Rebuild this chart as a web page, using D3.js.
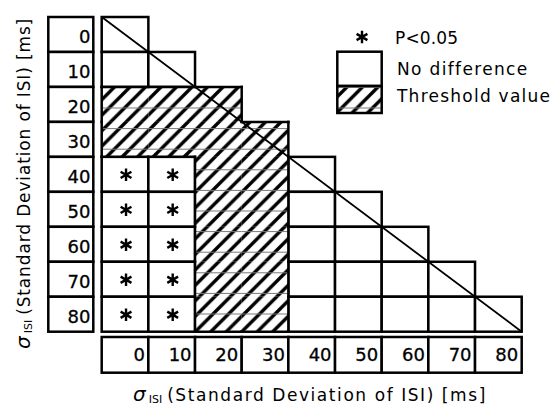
<!DOCTYPE html>
<html>
<head>
<meta charset="utf-8">
<script src="https://cdn.jsdelivr.net/npm/d3@7"></script>
<style>
  html, body { margin: 0; padding: 0; background: #fff; }
  svg { display: block; }
  text { font-family: "DejaVu Sans", "Liberation Sans", sans-serif; fill: #000; }
</style>
</head>
<body>
<svg id="chart" width="553" height="407"></svg>
<script>
// σ_ISI levels (ms) used on both axes
const sigmaLevels = [0, 10, 20, 30, 40, 50, 60, 70, 80];
const rowTickLabels = ["0", "10", "20", "30", "40", "50", "60", "70", "80"];
const colTickLabels = ["0", "10", "20", "30", "40", "50", "60", "70", "80"];

// Comparison result for each row (y σ) against each column (x σ ≤ y σ):
// S = significant (P<0.05), N = no difference, T = threshold value
const row0  = ["N"];
const row10 = ["N", "N"];
const row20 = ["T", "T", "T"];
const row30 = ["T", "T", "T", "T"];
const row40 = ["S", "S", "T", "T", "N"];
const row50 = ["S", "S", "T", "T", "N", "N"];
const row60 = ["S", "S", "T", "T", "N", "N", "N"];
const row70 = ["S", "S", "T", "T", "N", "N", "N", "N"];
const row80 = ["S", "S", "T", "T", "N", "N", "N", "N", "N"];
const results = [row0, row10, row20, row30, row40, row50, row60, row70, row80];

const legendItems = ["P<0.05", "No difference", "Threshold value"];

const svg = d3.select("#chart");
const LW = 2.5;

const x = d3.scaleBand().domain(sigmaLevels).range([101.7, 521.7]).padding(0);
const y = d3.scaleBand().domain(sigmaLevels).range([17, 331.7]).padding(0);

// stretch a text element's letter spacing so it spans a given width
function fitWidth(sel, width) {
  const node = sel.node();
  const n = node.getNumberOfChars();
  const w = node.getComputedTextLength();
  sel.attr("letter-spacing", ((width - w) / Math.max(1, n - 1)).toFixed(2));
}

// patterns
const defs = svg.append("defs");
const hp = 15.5;
const hatch = defs.append("pattern").attr("id", "hatch")
  .attr("patternUnits", "userSpaceOnUse").attr("width", hp).attr("height", hp);
hatch.append("rect").attr("width", hp).attr("height", hp).attr("fill", "#fff");
hatch.append("path")
  .attr("d", `M-2,2 L2,-2 M0,${hp} L${hp},0 M${hp - 2},${hp + 2} L${hp + 2},${hp - 2}`)
  .attr("stroke", "#000").attr("stroke-width", 3.4);
const rule = defs.append("pattern").attr("id", "rule")
  .attr("patternUnits", "userSpaceOnUse").attr("width", 40).attr("height", 20.6)
  .attr("y", 4.5);
rule.append("line").attr("x1", 0).attr("x2", 40).attr("y1", 0.5).attr("y2", 0.5)
  .attr("stroke", "#777").attr("stroke-width", 1);

// flatten cells
const cells = [];
results.forEach((row, i) => row.forEach((s, j) => cells.push({ yi: i, xi: j, s })));
const isT = (i, j) => results[i] && results[i][j] === "T";

const g = svg.append("g");

// plain cells (significant / no difference)
g.selectAll("rect.cell").data(cells.filter(d => d.s !== "T")).join("rect")
  .attr("class", "cell")
  .attr("x", d => x(sigmaLevels[d.xi]))
  .attr("y", d => y(sigmaLevels[d.yi]))
  .attr("width", x.bandwidth()).attr("height", y.bandwidth())
  .attr("fill", "#fff").attr("stroke", "#000").attr("stroke-width", LW);

// threshold cells: hatched fill, outlined as one region
const tCells = cells.filter(d => d.s === "T");
g.selectAll("rect.tcell").data(tCells).join("rect")
  .attr("class", "tcell")
  .attr("x", d => x(sigmaLevels[d.xi]))
  .attr("y", d => y(sigmaLevels[d.yi]))
  .attr("width", x.bandwidth()).attr("height", y.bandwidth())
  .attr("fill", "url(#hatch)");
g.selectAll("rect.trule").data(tCells).join("rect")
  .attr("class", "trule")
  .attr("x", d => x(sigmaLevels[d.xi]))
  .attr("y", d => y(sigmaLevels[d.yi]))
  .attr("width", x.bandwidth()).attr("height", y.bandwidth())
  .attr("fill", "url(#rule)");

const edges = [];
tCells.forEach(d => {
  const x0 = x(sigmaLevels[d.xi]), x1 = x0 + x.bandwidth();
  const y0 = y(sigmaLevels[d.yi]), y1 = y0 + y.bandwidth();
  if (!isT(d.yi - 1, d.xi)) edges.push([x0, y0, x1, y0]);
  if (!isT(d.yi + 1, d.xi)) edges.push([x0, y1, x1, y1]);
  if (!isT(d.yi, d.xi - 1)) edges.push([x0, y0, x0, y1]);
  if (!isT(d.yi, d.xi + 1)) edges.push([x1, y0, x1, y1]);
});
g.selectAll("line.tedge").data(edges).join("line")
  .attr("class", "tedge")
  .attr("x1", d => d[0] - (d[1] === d[3] ? LW / 2 : 0))
  .attr("x2", d => d[2] + (d[1] === d[3] ? LW / 2 : 0))
  .attr("y1", d => d[1] - (d[0] === d[2] ? LW / 2 : 0))
  .attr("y2", d => d[3] + (d[0] === d[2] ? LW / 2 : 0))
  .attr("stroke", "#000").attr("stroke-width", LW);

// diagonal (equal σ)
g.append("line")
  .attr("x1", x(sigmaLevels[0])).attr("y1", y(sigmaLevels[0]))
  .attr("x2", x(sigmaLevels[8]) + x.bandwidth()).attr("y2", y(sigmaLevels[8]) + y.bandwidth())
  .attr("stroke", "#000").attr("stroke-width", 1.8);

// asterisks for significant cells
const star = d3.symbol().type(d3.symbolAsterisk).size(110);
g.selectAll("path.star").data(cells.filter(d => d.s === "S")).join("path")
  .attr("class", "star")
  .attr("d", star)
  .attr("transform", d => `translate(${x(sigmaLevels[d.xi]) + x.bandwidth() / 2 + 1},${y(sigmaLevels[d.yi]) + y.bandwidth() / 2 + 0.5})`)
  .attr("fill", "none").attr("stroke", "#000").attr("stroke-width", 2.4);

// row tick boxes (left)
const rowAxis = svg.append("g");
rowAxis.selectAll("rect").data(sigmaLevels).join("rect")
  .attr("x", 48.3).attr("width", 45)
  .attr("y", d => y(d)).attr("height", y.bandwidth())
  .attr("fill", "#fff").attr("stroke", "#000").attr("stroke-width", LW);
rowAxis.selectAll("text").data(sigmaLevels).join("text")
  .attr("x", 90.5).attr("y", d => y(d) + y.bandwidth() / 2 + 8.5)
  .attr("text-anchor", "end").attr("font-size", 18)
  .attr("stroke", "#000").attr("stroke-width", 0.3)
  .text((d, i) => rowTickLabels[i]);

// column tick boxes (bottom)
const colAxis = svg.append("g");
colAxis.selectAll("rect").data(sigmaLevels).join("rect")
  .attr("x", d => x(d)).attr("width", x.bandwidth())
  .attr("y", 337).attr("height", 35.7)
  .attr("fill", "#fff").attr("stroke", "#000").attr("stroke-width", LW);
colAxis.selectAll("text").data(sigmaLevels).join("text")
  .attr("x", d => x(d) + x.bandwidth() - 3.5).attr("y", 361)
  .attr("text-anchor", "end").attr("font-size", 18)
  .attr("stroke", "#000").attr("stroke-width", 0.3)
  .text((d, i) => colTickLabels[i]);

// axis titles
function axisTitle(sel) {
  sel.append("tspan").attr("font-style", "italic").attr("font-size", 20).text("σ");
  sel.append("tspan").attr("font-size", 11).attr("dx", 3).attr("dy", 2).text("ISI");
  return sel.append("tspan").attr("font-size", 17).attr("dx", 5).attr("dy", -2)
    .text("(Standard Deviation of ISI) [ms]");
}
const xt = svg.append("text").attr("x", 133).attr("y", 400.5);
fitWidth(axisTitle(xt), 318);
const yt = svg.append("text").attr("transform", "translate(29.5,349) rotate(-90)");
fitWidth(axisTitle(yt), 296);

// legend
const lg = svg.append("g");
lg.append("path").attr("d", star)
  .attr("transform", "translate(362,37)")
  .attr("fill", "none").attr("stroke", "#000").attr("stroke-width", 2.4);
lg.append("rect").attr("x", 337.3).attr("y", 51.7).attr("width", 44.4).attr("height", 34.3)
  .attr("fill", "#fff").attr("stroke", "#000").attr("stroke-width", LW);
lg.append("rect").attr("x", 337.3).attr("y", 86).attr("width", 44.4).attr("height", 27)
  .attr("fill", "url(#hatch)");
lg.append("rect").attr("x", 337.3).attr("y", 86).attr("width", 44.4).attr("height", 27)
  .attr("fill", "url(#rule)");
lg.append("rect").attr("x", 337.3).attr("y", 86).attr("width", 44.4).attr("height", 27)
  .attr("fill", "none").attr("stroke", "#000").attr("stroke-width", LW);
const legendY = [44, 74.5, 102];
const legendX = [395, 397, 397];
const legendW = [63, 130, 153];
lg.selectAll("text").data(legendItems).join("text")
  .attr("x", (d, i) => legendX[i]).attr("y", (d, i) => legendY[i])
  .attr("font-size", 17)
  .text(d => d)
  .each(function (d, i) { fitWidth(d3.select(this), legendW[i]); });
</script>
</body>
</html>
